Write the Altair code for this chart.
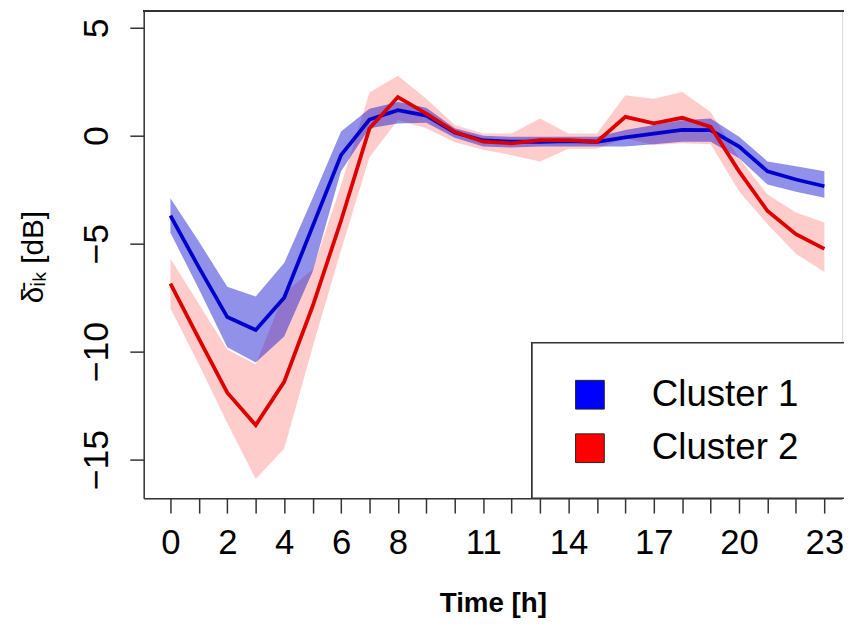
import altair as alt
import pandas as pd

hours = list(range(24))
shown_hours = [0, 2, 4, 6, 8, 11, 14, 17, 20, 23]
y_ticks = [-15, -10, -5, 0, 5]
clusters = ["Cluster 1", "Cluster 2"]

c1_mean = [-3.7, -6.1, -8.4, -9.0, -7.5, -4.2, -0.9, 0.75, 1.18, 0.93, 0.15, -0.22,
           -0.28, -0.28, -0.25, -0.28, -0.08, 0.10, 0.27, 0.26, -0.5, -1.65, -2.03, -2.34]
c1_upper = [-2.9, -4.9, -7.0, -7.45, -5.9, -2.9, 0.2, 1.25, 1.56, 1.3, 0.35, 0.0,
            -0.05, -0.05, -0.05, -0.05, 0.26, 0.49, 0.72, 0.8, -0.05, -1.19, -1.42, -1.65]
c1_lower = [-4.5, -7.1, -9.8, -10.5, -9.3, -6.3, -1.65, 0.34, 0.57, 0.6, -0.1, -0.5,
            -0.55, -0.5, -0.5, -0.5, -0.5, -0.4, -0.28, -0.28, -1.04, -2.26, -2.6, -2.87]

c2_mean = [-6.85, -9.4, -11.9, -13.4, -11.4, -7.9, -3.94, 0.34, 1.79, 1.02, 0.18, -0.28,
           -0.35, -0.2, -0.2, -0.28, 0.87, 0.57, 0.83, 0.41, -1.65, -3.49, -4.56, -5.24]
c2_upper = [-5.7, -7.8, -9.9, -10.6, -7.3, -6.2, -2.3, 2.0, 2.78, 1.71, 0.5, 0.1,
            0.1, 0.8, 0.1, 0.1, 1.87, 1.71, 2.02, 1.1, -1.04, -2.72, -3.56, -4.02]
c2_lower = [-8.0, -10.6, -13.3, -15.9, -14.5, -9.8, -5.3, -1.0, 0.73, 0.34, -0.3, -0.65,
            -0.9, -1.19, -0.6, -0.6, -0.12, -0.43, -0.35, -0.4, -2.57, -4.1, -5.47, -6.31]

df1 = pd.DataFrame({"hour": hours, "mean": c1_mean, "upper": c1_upper, "lower": c1_lower,
                    "cluster": clusters[0]})
df2 = pd.DataFrame({"hour": hours, "mean": c2_mean, "upper": c2_upper, "lower": c2_lower,
                    "cluster": clusters[1]})
df_all = pd.concat([df1, df2], ignore_index=True)

FONT = "Liberation Sans"
W, H = 705, 492
XDOM = [-0.94, 23.62]
YDOM = [-16.79, 5.78]

label_expr = "indexof([" + ",".join(str(h) for h in shown_hours) + "], datum.value) >= 0 ? datum.label : ''"

x_axis = alt.Axis(
    values=hours, labelExpr=label_expr, title="Time [h]", grid=False,
    tickSize=15, tickWidth=1.5, tickColor="#333", domainColor="#333", domainWidth=1.5,
    labelFont=FONT, labelFontSize=35, labelColor="black", labelPadding=13,
    labelOverlap=False, labelFlush=False,
    titleFont=FONT, titleFontSize=28, titleFontWeight="bold", titleColor="black",
    titleBaseline="alphabetic", titleY=114,
)
x_scale = alt.Scale(domain=XDOM, nice=False, zero=False)
y_axis = alt.Axis(
    values=y_ticks, title="δ̄ᵢₖ [dB]", grid=False,
    tickSize=14, tickWidth=1.5, tickColor="#333", domainColor="#333", domainWidth=1.5,
    labelFont=FONT, labelFontSize=36, labelColor="black", labelAngle=270,
    labelAlign="center", labelBaseline="alphabetic", labelPadding=23,
    labelOverlap=False, labelFlush=False,
    titleFont=FONT, titleFontSize=30, titleFontWeight="normal", titleColor="black",
    titleAngle=270, titleAlign="center", titleBaseline="middle", titleX=-111, titleY=248,
)
y_scale = alt.Scale(domain=YDOM, nice=False, zero=False)


def xe():
    return alt.X("hour:Q", scale=x_scale, axis=x_axis)


def ye(field):
    return alt.Y(field, type="quantitative", scale=y_scale, axis=y_axis)


band2 = alt.Chart(df2).mark_area(color="#FF8080", opacity=0.4).encode(
    x=xe(), y=ye("lower"), y2="upper:Q",
)
band1 = alt.Chart(df1).mark_area(color="#0000CD", opacity=0.43).encode(
    x=xe(), y=ye("lower"), y2="upper:Q",
)
line1 = alt.Chart(df1).mark_line(color="#0000CD", strokeWidth=3.8).encode(
    x=xe(), y=ye("mean"),
)
line2 = alt.Chart(df2).mark_line(color="#DC0000", strokeWidth=3.8).encode(
    x=xe(), y=ye("mean"),
)
# legend frame (decoration; runs off the right edge like the reference)
legend_frame = alt.Chart(df1).mark_rect(
    fill="white", stroke="#333", strokeWidth=1.5, clip=False
).encode(
    x=alt.value(392), x2=alt.value(W + 40), y=alt.value(335), y2=alt.value(H),
)
legend_layer = alt.Chart(df_all).mark_point(shape="square", filled=True, opacity=0).encode(
    x=xe(), y=ye("mean"),
    color=alt.Color(
        "cluster:N",
        scale=alt.Scale(domain=clusters, range=["#0000FF", "#FF0000"]),
        legend=alt.Legend(
            title=None, orient="none", legendX=396, legendY=333, padding=36,
            cornerRadius=0,
            symbolType="square", symbolSize=841, symbolOpacity=1,
            symbolStrokeColor="#222", symbolStrokeWidth=1,
            labelFont=FONT, labelFontSize=37, labelColor="black", labelOffset=44,
            rowPadding=16,
        ),
    ),
)
top_rule = alt.Chart(df1).mark_rule(color="#333", strokeWidth=1.5).encode(
    x=alt.value(0), x2=alt.value(W + 2), y=alt.value(0),
)

chart = alt.layer(band2, band1, line1, line2, legend_frame, legend_layer, top_rule).properties(
    width=W, height=H,
    autosize=alt.AutoSizeParams(type="none"),
    padding={"left": 137, "top": 0, "right": 2, "bottom": 120},
).configure_view(stroke=None).configure_axis(labelOverlap=False).configure(background="white")

chart.save("out.html", embed_options={"renderer": "svg", "actions": False})
